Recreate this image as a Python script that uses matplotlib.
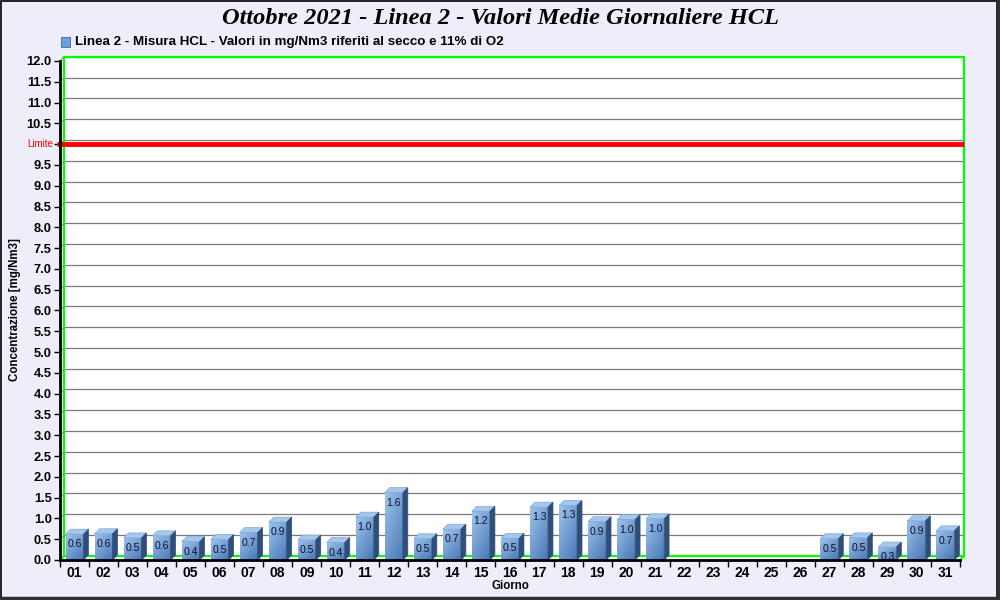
import matplotlib
matplotlib.use("Agg")
import matplotlib.pyplot as plt
import numpy as np
from matplotlib.patches import Polygon, Rectangle
from matplotlib.lines import Line2D

days = ["%02d" % d for d in range(1, 32)]
values = [0.62, 0.63, 0.53, 0.58, 0.44, 0.49, 0.66, 0.91, 0.48, 0.42,
          1.03, 1.62, 0.51, 0.74, 1.17, 0.52, 1.27, 1.31, 0.92, 0.97,
          0.99, 0.0, 0.0, 0.0, 0.0, 0.0, 0.51, 0.53, 0.31, 0.94, 0.70]
limit = 10.0
title = "Ottobre 2021 - Linea 2 - Valori Medie Giornaliere HCL"
legend_txt = "Linea 2 - Misura HCL - Valori in mg/Nm3 riferiti al secco e 11% di O2"

bg = "#EEEEFA"
sans = ["Liberation Sans", "DejaVu Sans"]

fig = plt.figure(figsize=(10, 6), dpi=100, facecolor=bg)
ax = fig.add_axes([0.060, 0.0667, 0.900, 0.8317])
ax.set_facecolor("white")

n = len(values)
ax.set_xlim(-0.5, n - 0.5)
ax.set_ylim(0, 12)

# 3D wall offset (about 4 px)
wx, wy = 0.14, 0.10
# bar depth (about 5 px)
bw, bdx, bdy = 0.62, 0.17, 0.12

# back wall white (fill the area that sticks above axes)
ax.add_patch(Polygon([(-0.5, 0), (-0.5 + wx, wy), (-0.5 + wx, 12 + wy),
                      (n - 0.5 + wx, 12 + wy), (n - 0.5 + wx, wy), (n - 0.5, 0)],
                     closed=True, facecolor="white", edgecolor="none", zorder=0, clip_on=False))

# grid lines on the back wall
yt = np.arange(0.5, 12.01, 0.5)
for y in yt:
    ax.plot([-0.5 + wx, n - 0.5 + wx], [y + wy, y + wy], color="#7A7A7A", lw=0.9, zorder=1, clip_on=False)
    ax.plot([-0.5, -0.5 + wx], [y, y + wy], color="#909090", lw=0.8, zorder=1, clip_on=False)

# green frame
ax.add_patch(Rectangle((-0.5 + wx, wy), n, 12, fill=False, edgecolor="#00FF00", lw=1.6, zorder=1.5, clip_on=False))
ax.plot([-0.5, -0.5 + wx], [0, wy], color="#00FF00", lw=1.4, zorder=1.5, clip_on=False)
ax.plot([n - 0.5, n - 0.5 + wx], [0, wy], color="#00FF00", lw=1.4, zorder=1.5, clip_on=False)

# gradient for bar front
gx = np.linspace(0, 1, 30)
gy = np.linspace(0, 1, 60)
GX, GY = np.meshgrid(gx, gy)
light = np.array([0.62, 0.77, 0.93])
dark = np.array([0.30, 0.48, 0.72])
t = np.clip(0.45 * GX + 0.6 * GY, 0, 1)[..., None]
grad = light * (1 - t) + dark * t

for i, v in enumerate(values):
    if v <= 0:
        continue
    x0, x1 = i - bw / 2, i + bw / 2
    ax.imshow(grad, extent=[x0, x1, 0, v], origin="upper", aspect="auto", zorder=3, interpolation="bilinear")
    ax.add_patch(Polygon([(x0, v), (x1, v), (x1 + bdx, v + bdy), (x0 + bdx, v + bdy)],
                         closed=True, facecolor="#A4C7EE", edgecolor="#7FA6D6", lw=0.5, zorder=4, clip_on=False))
    ax.add_patch(Polygon([(x1, 0), (x1 + bdx, bdy), (x1 + bdx, v + bdy), (x1, v)],
                         closed=True, facecolor="#2F4F78", edgecolor="#2F4F78", lw=0.5, zorder=4, clip_on=False))
    ax.text(i, v - 0.12, "%.1f" % v, ha="center", va="top", fontsize=7.5, color="#101030",
            family=sans, zorder=5)

ax.set_xlim(-0.5, n - 0.5)
ax.set_ylim(0, 12)

# limit line
ax.plot([-0.5 - 0.12, n - 0.5 + wx], [limit, limit], color="#FF0000", lw=3.5, zorder=6,
        clip_on=False, solid_capstyle="butt")
ax.text(-0.5 - 0.25, limit, "Limite", color="#FF0000", fontsize=7, ha="right", va="center", family=sans)

# axes styling
for s in ["top", "right"]:
    ax.spines[s].set_visible(False)
ax.spines["left"].set_linewidth(2)
ax.spines["bottom"].set_linewidth(2)
ax.spines["left"].set_zorder(7)
ax.spines["bottom"].set_zorder(7)

yticks = np.arange(0, 12.01, 0.5)
ax.set_yticks(yticks)
ax.set_yticklabels(["" if abs(y - limit) < 1e-9 else "%.1f" % y for y in yticks], fontsize=9.3,
                   fontweight="bold", family=sans)
ax.tick_params(axis="y", length=4, width=1, pad=2)

ax.set_xticks(range(n))
ax.set_xticklabels(days, fontsize=10, fontweight="bold", family=sans)
ax.set_xticks(np.arange(-0.5, n, 1), minor=True)
ax.tick_params(axis="x", which="major", length=0, pad=4)
ax.tick_params(axis="x", which="minor", length=5, width=1)

# titles / labels
fig.text(0.5, 0.970, title, ha="center", va="center", fontsize=17.6, fontweight="bold",
         fontstyle="italic", family=["Liberation Serif", "DejaVu Serif"])
fig.patches.append(Rectangle((0.061, 0.922), 0.009, 0.016, transform=fig.transFigure,
                             facecolor="#6A9EDC", edgecolor="#3A6AA8", lw=0.6))
fig.text(0.075, 0.930, legend_txt, ha="left", va="center", fontsize=9.6, fontweight="bold", family=sans)
fig.text(0.015, 1 - 310 / 600, "Concentrazione [mg/Nm3]", rotation=90, ha="center", va="center",
         fontsize=8.3, fontweight="bold", family=sans)
fig.text(0.510, 1 - 586 / 600, "Giorno", ha="center", va="center", fontsize=8.3, fontweight="bold", family=sans)

# figure border
fig.patches.append(Rectangle((0.0005, 0.002), 0.9965, 0.997, transform=fig.transFigure,
                             fill=False, edgecolor="black", lw=1.2))
fig.lines.append(Line2D([0.998, 0.998], [0.0, 1.0], transform=fig.transFigure, color="#303030", lw=2.5))
fig.lines.append(Line2D([0.0, 1.0], [0.003, 0.003], transform=fig.transFigure, color="#303030", lw=2.5))

fig.savefig("out.png", dpi=100, facecolor=bg)
